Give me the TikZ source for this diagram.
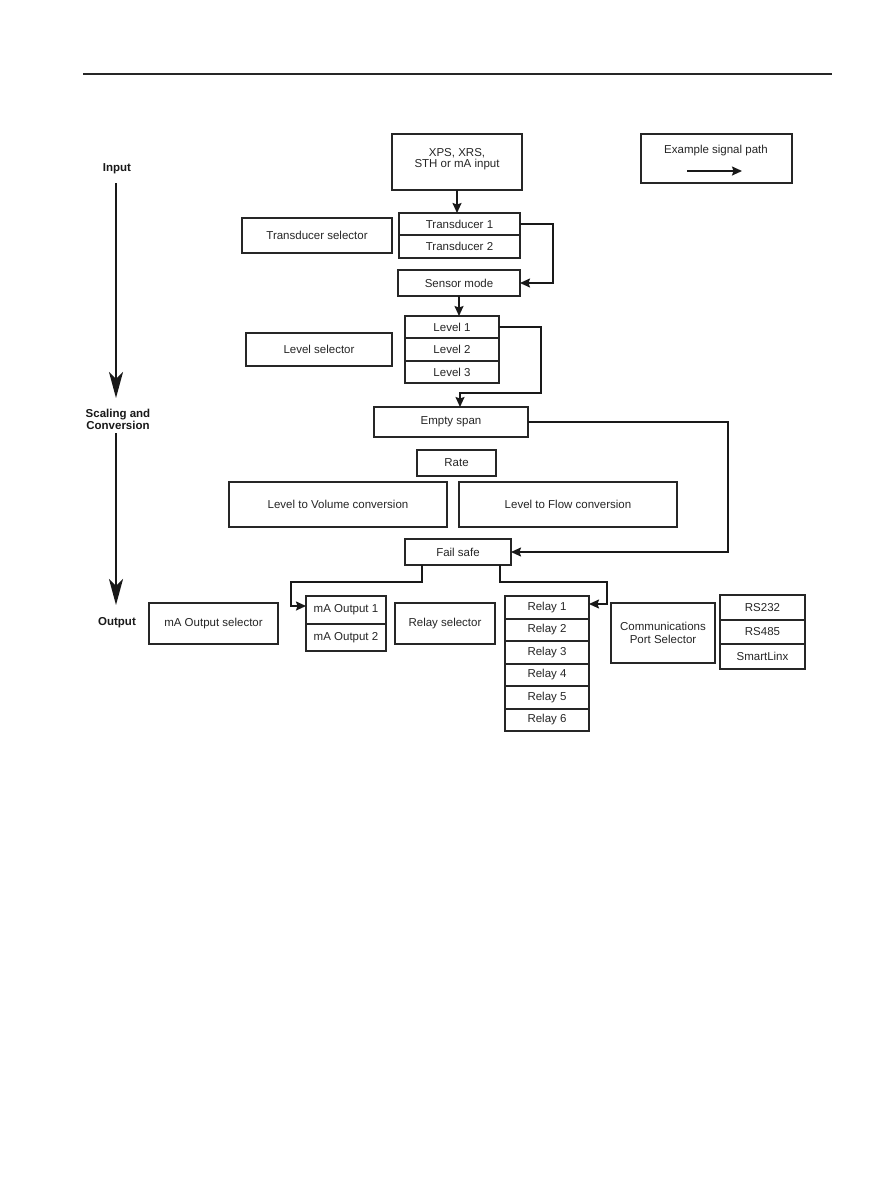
\documentclass[tikz,border=0pt]{standalone}
\usepackage{fontspec}
\setmainfont{Liberation Sans}
\usetikzlibrary{arrows.meta,calc}
\newcommand\bx[6]{\node[blk, minimum width={#4-#2}, minimum height={#5-#3}] (#1) at ({(#2+#4)/2},{(#3+#5)/2}) {#6};}
\begin{document}
\begin{tikzpicture}[x=1pt,y=-1pt,
  blk/.style={draw=black!85, line width=1.3pt, inner sep=0pt, outer sep=0pt, align=center,
    font=\fontsize{11.5}{12}\selectfont, text=black!85},
  conn/.style={draw=black!90, line width=1.6pt, -{Stealth[length=10pt,width=9pt,inset=1.5pt]}},
  bigarr/.style={draw=black!90, line width=2pt, -{Stealth[length=26pt,width=14pt,inset=7pt]}},
  lbl/.style={font=\fontsize{11.5}{11}\selectfont\bfseries, align=center, inner sep=0pt, text=black!90},
  plain/.style={font=\fontsize{11.5}{12}\selectfont, inner sep=0pt, text=black!85}]
\fill[white] (0,0) rectangle (893,1191);
\useasboundingbox (0,0) rectangle (893,1191);
% header rule
\coordinate (hl) at (83,74);
\coordinate (hr) at (832,74);
\draw[line width=1.5pt, black!85] (hl) -- (hr);
% left labels and arrows
\node[lbl] (linput) at (117,169) {Input};
\node[lbl, font=\fontsize{11.5}{10.5}\selectfont\bfseries] (lscal) at (118,419) {Scaling and\\Conversion};
\node[lbl] (loutput) at (117,623) {Output};
\draw[bigarr] (116,183) -- (116,398);
\draw[bigarr] (116,433) -- (116,605);
% example
\bx{ex}{641}{134}{792}{183}{}
\node[plain] (extext) at (716,151) {Example signal path};
\coordinate (exa) at (687,171);
\coordinate (exb) at (742,171);
\draw[conn] (exa) -- (exb);
% input
\bx{inp}{392}{134}{522}{190}{}
\node[plain, align=center, font=\fontsize{11.5}{10.5}\selectfont] (inptext) at (457,159) {XPS, XRS,\\STH or mA input};
% transducers
\bx{tsel}{242}{218}{392}{253}{Transducer selector}
\bx{t1}{399}{213}{520}{235}{Transducer 1}
\bx{t2}{399}{235}{520}{258}{Transducer 2}
\bx{sm}{398}{270}{520}{296}{Sensor mode}
% levels
\bx{lsel}{246}{333}{392}{366}{Level selector}
\bx{l1}{405}{316}{499}{338}{Level 1}
\bx{l2}{405}{338}{499}{361}{Level 2}
\bx{l3}{405}{361}{499}{383}{Level 3}
% scaling
\bx{es}{374}{407}{528}{437}{Empty span}
\bx{rate}{417}{450}{496}{476}{Rate}
\bx{lvc}{229}{482}{447}{527}{Level to Volume conversion}
\bx{lfc}{459}{482}{677}{527}{Level to Flow conversion}
\bx{fs}{405}{539}{511}{565}{Fail safe}
% outputs
\bx{masel}{149}{603}{278}{644}{mA Output selector}
\bx{ma1}{306}{596}{386}{624}{mA Output 1}
\bx{ma2}{306}{624}{386}{651}{mA Output 2}
\bx{rsel}{395}{603}{495}{644}{Relay selector}
\bx{r1}{505}{596}{589}{619}{Relay 1}
\bx{r2}{505}{619}{589}{641}{Relay 2}
\bx{r3}{505}{641}{589}{664}{Relay 3}
\bx{r4}{505}{664}{589}{686}{Relay 4}
\bx{r5}{505}{686}{589}{709}{Relay 5}
\bx{r6}{505}{709}{589}{731}{Relay 6}
\bx{csel}{611}{603}{715}{663}{Communications\\[1.5pt]Port Selector}
\bx{rs1}{720}{595}{805}{620}{RS232}
\bx{rs2}{720}{620}{805}{644}{RS485}
\bx{rs3}{720}{644}{805}{669}{SmartLinx}
% connectors
\draw[conn] (inp.south) -- (inp.south |- t1.north);
\draw[conn] (t1.east) -- ++(33,0) |- (sm.east);
\draw[conn] (sm.south) -- (sm.south |- l1.north);
\coordinate (c1) at (460,393);
\draw[conn] (l1.east) -- ++(42,0) |- (c1) -- (c1 |- es.north);
\draw[conn] (es.east) -- ++(200,0) |- (fs.east);
\coordinate (fsl) at (422,565);
\coordinate (fsr) at (500,565);
\draw[conn] (fsl) -- ++(0,17) -| ($(ma1.west)+(-15,-4)$) -- ($(ma1.west)+(0,-4)$);
\draw[conn] (fsr) -- ++(0,17) -| ($(r1.east)+(18,-3.5)$) -- ($(r1.east)+(0,-3.5)$);
\end{tikzpicture}
\end{document}
